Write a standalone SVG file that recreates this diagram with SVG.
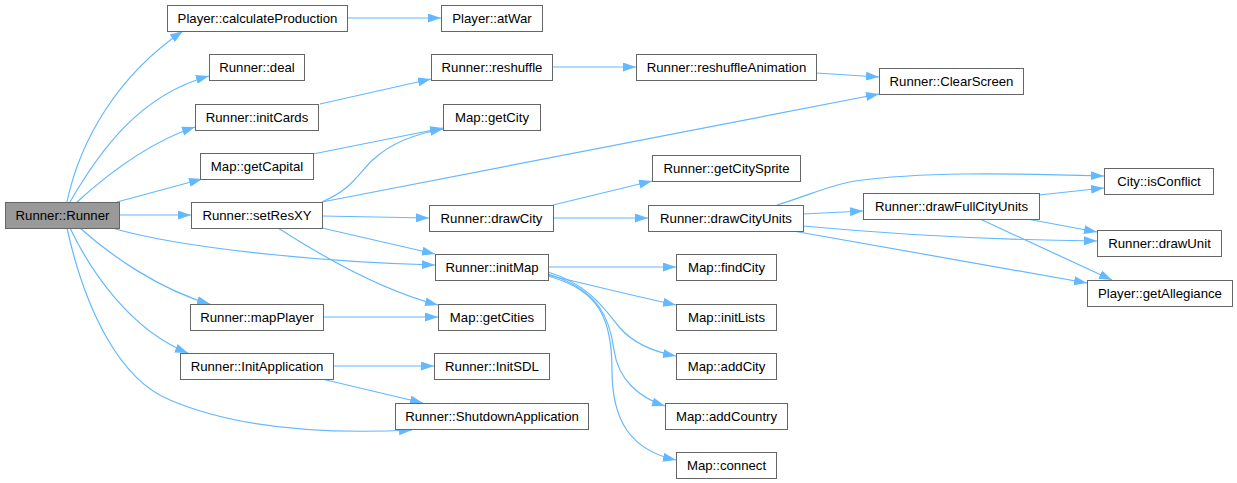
<svg xmlns="http://www.w3.org/2000/svg" width="1237" height="483" viewBox="0 0 1237 483">
<style>
.n rect{fill:#ffffff;stroke:#666666;stroke-width:1}
.root rect{fill:#999999}
.n text{font-family:"Liberation Sans",Helvetica,Arial,sans-serif;font-size:13.2px;fill:#000000;text-anchor:middle}
#edges path{fill:none;stroke:#63b8ff;stroke-width:1.2;marker-end:url(#ah)}
</style>
<defs>
<marker id="ah" markerUnits="userSpaceOnUse" markerWidth="14" markerHeight="10" refX="13" refY="4.5" orient="auto">
<path d="M0,0 L13,4.5 L0,9 z" fill="#63b8ff" stroke="none"/>
</marker>
</defs>
<rect width="1237" height="483" fill="#ffffff"/>
<g id="edges">
<path d="M67,202 C80,140 118,75 183,31"/>
<path d="M70,202 C100,150 140,95 209,76"/>
<path d="M77,202 C110,172 150,142 195,127"/>
<path d="M117,202 L202,179"/>
<path d="M119,215 L191,215"/>
<path d="M112,228 C180,248 320,262 435,265"/>
<path d="M80,228 C110,255 160,290 210,304"/>
<path d="M70,228 C90,270 130,330 188,353"/>
<path d="M67,228 C85,310 120,380 170,400 C240,430 330,434 412,430"/>
<path d="M347,18 L441,18"/>
<path d="M320,104 L431,79"/>
<path d="M552,67 L636,67"/>
<path d="M816,73 L879,77"/>
<path d="M313,154 L443,128"/>
<path d="M322,202 C355,188 360,170 375,158 C395,140 420,133 443,129"/>
<path d="M322,202 L879,94"/>
<path d="M322,216 L429,218"/>
<path d="M322,228 L435,254"/>
<path d="M278,228 C320,255 380,290 438,305"/>
<path d="M323,317 L438,317"/>
<path d="M333,366 L434,366"/>
<path d="M322,379 L423,403"/>
<path d="M553,205 L652,181"/>
<path d="M553,218 L648,218"/>
<path d="M777,205 C810,195 830,185 855,181 C920,172 1000,173 1104,176"/>
<path d="M803,214 L863,211"/>
<path d="M1039,195 L1104,188"/>
<path d="M1027,219 L1097,232"/>
<path d="M803,226 C900,235 1000,240 1097,241"/>
<path d="M980,219 L1112,280"/>
<path d="M793,231 L1087,283"/>
<path d="M548,267 L676,267"/>
<path d="M548,275 C590,285 630,295 676,305"/>
<path d="M548,272 C590,285 605,310 620,328 C635,345 655,352 676,356"/>
<path d="M548,274 C600,290 610,320 614,350 C618,380 640,398 665,406"/>
<path d="M548,276 C600,290 612,320 612,370 C612,420 630,450 676,460"/>
</g>
<g id="n_runner" class="n root"><rect x="5.5" y="202.5" width="114" height="26"/><text x="62.5" y="220">Runner::Runner</text></g>
<g id="n_calcprod" class="n"><rect x="167.5" y="5.5" width="180" height="26"/><text x="257.5" y="23">Player::calculateProduction</text></g>
<g id="n_atwar" class="n"><rect x="441.5" y="5.5" width="101" height="26"/><text x="492" y="23">Player::atWar</text></g>
<g id="n_deal" class="n"><rect x="209.5" y="54.5" width="95" height="26"/><text x="257" y="72">Runner::deal</text></g>
<g id="n_initcards" class="n"><rect x="195.5" y="104.5" width="123" height="26"/><text x="257" y="122">Runner::initCards</text></g>
<g id="n_getcapital" class="n"><rect x="200.5" y="153.5" width="113" height="26"/><text x="257" y="171">Map::getCapital</text></g>
<g id="n_setresxy" class="n"><rect x="191.5" y="202.5" width="131" height="26"/><text x="257" y="220">Runner::setResXY</text></g>
<g id="n_reshuffle" class="n"><rect x="431.5" y="54.5" width="121" height="26"/><text x="492" y="72">Runner::reshuffle</text></g>
<g id="n_reshanim" class="n"><rect x="636.5" y="54.5" width="180" height="26"/><text x="726.5" y="72">Runner::reshuffleAnimation</text></g>
<g id="n_clearscreen" class="n"><rect x="879.5" y="68.5" width="144" height="26"/><text x="951.5" y="86">Runner::ClearScreen</text></g>
<g id="n_getcity" class="n"><rect x="443.5" y="104.5" width="97" height="26"/><text x="492" y="122">Map::getCity</text></g>
<g id="n_getcitysprite" class="n"><rect x="652.5" y="155.5" width="148" height="26"/><text x="726.5" y="173">Runner::getCitySprite</text></g>
<g id="n_drawcity" class="n"><rect x="429.5" y="205.5" width="124" height="26"/><text x="491.5" y="223">Runner::drawCity</text></g>
<g id="n_drawcityunits" class="n"><rect x="648.5" y="205.5" width="155" height="26"/><text x="726" y="223">Runner::drawCityUnits</text></g>
<g id="n_isconflict" class="n"><rect x="1104.5" y="168.5" width="109" height="26"/><text x="1159" y="186">City::isConflict</text></g>
<g id="n_drawfull" class="n"><rect x="863.5" y="193.5" width="176" height="26"/><text x="951.5" y="211">Runner::drawFullCityUnits</text></g>
<g id="n_drawunit" class="n"><rect x="1097.5" y="230.5" width="124" height="26"/><text x="1159.5" y="248">Runner::drawUnit</text></g>
<g id="n_getallegiance" class="n"><rect x="1087.5" y="280.5" width="145" height="26"/><text x="1160" y="298">Player::getAllegiance</text></g>
<g id="n_initmap" class="n"><rect x="435.5" y="254.5" width="113" height="26"/><text x="492" y="272">Runner::initMap</text></g>
<g id="n_findcity" class="n"><rect x="676.5" y="254.5" width="100" height="26"/><text x="726.5" y="272">Map::findCity</text></g>
<g id="n_mapplayer" class="n"><rect x="190.5" y="304.5" width="133" height="26"/><text x="257" y="322">Runner::mapPlayer</text></g>
<g id="n_getcities" class="n"><rect x="438.5" y="304.5" width="107" height="26"/><text x="492" y="322">Map::getCities</text></g>
<g id="n_initlists" class="n"><rect x="676.5" y="304.5" width="100" height="26"/><text x="726.5" y="322">Map::initLists</text></g>
<g id="n_initapp" class="n"><rect x="180.5" y="353.5" width="153" height="26"/><text x="257" y="371">Runner::InitApplication</text></g>
<g id="n_initsdl" class="n"><rect x="434.5" y="353.5" width="115" height="26"/><text x="492" y="371">Runner::InitSDL</text></g>
<g id="n_addcity" class="n"><rect x="676.5" y="353.5" width="100" height="26"/><text x="726.5" y="371">Map::addCity</text></g>
<g id="n_shutdown" class="n"><rect x="395.5" y="403.5" width="193" height="26"/><text x="492" y="421">Runner::ShutdownApplication</text></g>
<g id="n_addcountry" class="n"><rect x="665.5" y="403.5" width="122" height="26"/><text x="726.5" y="421">Map::addCountry</text></g>
<g id="n_connect" class="n"><rect x="676.5" y="452.5" width="100" height="26"/><text x="726.5" y="470">Map::connect</text></g>
</svg>
